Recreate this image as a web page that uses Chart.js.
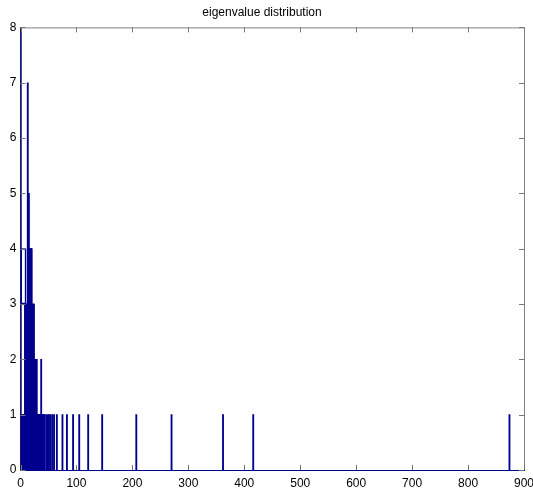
<!DOCTYPE html>
<html>
<head>
<meta charset="utf-8">
<script src="https://cdn.jsdelivr.net/npm/chart.js@4/dist/chart.umd.min.js"></script>
<style>
  html, body { margin: 0; padding: 0; background: #fff; }
  #wrap { width: 533px; height: 494px; }
</style>
</head>
<body>
<div id="wrap"><canvas id="eigChart"></canvas></div>
<script>
// histogram bins (eigenvalue) and counts
const binCenters = [
    0.5, 2, 3, 5, 6, 7, 8, 9, 10, 11, 12, 13, 14, 15,
    16, 17, 18, 19, 20, 21, 22, 23, 24, 25, 26, 27, 28, 29,
    30, 31, 32, 33, 34, 35, 36, 37, 38, 39, 40, 41, 42, 43,
    46, 49, 51, 54, 57, 60, 65,
    75, 83, 94, 105, 121, 146, 207, 270, 362, 416, 874
];
const counts = [
    8, 1, 1, 1, 1, 1, 3, 3, 3, 3, 3, 7, 4, 5,
    4, 4, 4, 4, 4, 3, 3, 3, 3, 2, 2, 2, 2, 2,
    1, 1, 1, 1, 1, 1, 1, 2, 1, 1, 1, 1, 1, 1,
    1, 1, 1, 1, 1, 1, 1,
    1, 1, 1, 1, 1, 1, 1, 1, 1, 1, 1
];
// the hollow box drawn near zero (center, [from, to])
const boxCenter = [5.2];
const boxRange = [[3, 4]];

const xTicks = [0, 100, 200, 300, 400, 500, 600, 700, 800, 900];
const yTicks = [0, 1, 2, 3, 4, 5, 6, 7, 8];

const navy = '#00008f';
const font = { family: "'Liberation Sans', Arial, Helvetica, sans-serif", size: 12 };

// matlab style inward ticks plus top/right frame
const framePlugin = {
    id: 'frame',
    afterDraw(chart) {
        const { ctx, chartArea: a, scales } = chart;
        ctx.save();
        ctx.lineWidth = 1;
        ctx.strokeStyle = '#808080';
        ctx.beginPath();
        ctx.moveTo(a.left, a.top + 0.5);
        ctx.lineTo(a.right + 0.5, a.top + 0.5);
        ctx.lineTo(a.right + 0.5, a.bottom);
        ctx.stroke();
        ctx.strokeStyle = '#777';
        ctx.beginPath();
        xTicks.forEach(v => {
            const x = Math.round(scales.x.getPixelForValue(v)) + 0.5;
            ctx.moveTo(x, a.bottom);
            ctx.lineTo(x, a.bottom - 5);
            ctx.moveTo(x, a.top);
            ctx.lineTo(x, a.top + 5);
        });
        yTicks.forEach(v => {
            const y = Math.round(scales.y.getPixelForValue(v)) + 0.5;
            ctx.moveTo(a.left, y);
            ctx.lineTo(a.left + 5, y);
            ctx.moveTo(a.right, y);
            ctx.lineTo(a.right - 5, y);
        });
        ctx.stroke();
        ctx.restore();
    }
};

const ctx = document.getElementById('eigChart').getContext('2d');
const chart = new Chart(ctx, {
    type: 'bar',
    data: {
        datasets: [{
            data: binCenters.map((b, i) => ({ x: b, y: counts[i] })),
            backgroundColor: navy,
            borderWidth: 0,
            barThickness: 1.2,
            grouped: false
        }, {
            data: boxCenter.map((b, i) => ({ x: b, y: boxRange[i] })),
            backgroundColor: 'rgba(255,255,255,0)',
            borderColor: navy,
            borderWidth: 1,
            borderSkipped: false,
            barThickness: 5.5,
            grouped: false
        }]
    },
    options: {
        responsive: true,
        maintainAspectRatio: false,
        animation: false,
        layout: { padding: { left: 0, right: 9, bottom: 0, top: 0 } },
        plugins: {
            legend: { display: false },
            tooltip: { enabled: false },
            title: {
                display: true,
                text: 'eigenvalue distribution',
                color: '#000',
                font: { family: font.family, size: 12, weight: 'normal' },
                padding: { top: 5, bottom: 8 }
            }
        },
        scales: {
            x: {
                type: 'linear',
                offset: false,
                min: 0,
                max: 900,
                afterBuildTicks: s => { s.ticks = xTicks.map(v => ({ value: v })); },
                afterFit: s => { s.height = 24; s.paddingLeft = 0; s.paddingRight = 9; },
                grid: { display: false, drawTicks: false, offset: false },
                border: { display: true, color: navy, width: 1 },
                ticks: { color: '#000', font: font, padding: 6, maxRotation: 0 }
            },
            y: {
                min: 0,
                max: 8,
                afterBuildTicks: s => { s.ticks = yTicks.map(v => ({ value: v })); },
                afterFit: s => { s.width = 20.5; s.paddingTop = 0; s.paddingBottom = 0; },
                grid: { display: false, drawTicks: false },
                border: { display: true, color: '#333', width: 1 },
                ticks: { color: '#000', font: font, padding: 4 }
            }
        }
    },
    plugins: [framePlugin]
});
</script>
</body>
</html>
